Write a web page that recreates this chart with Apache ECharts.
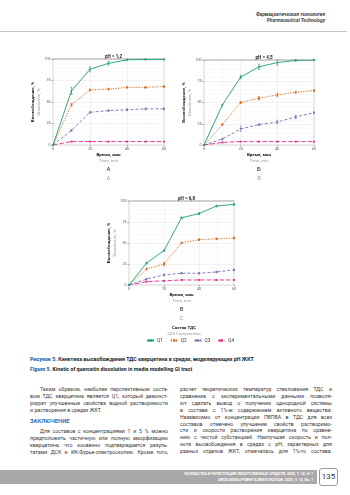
<!DOCTYPE html>
<html>
<head>
<meta charset="utf-8">
<script src="https://cdn.jsdelivr.net/npm/echarts@6/dist/echarts.min.js"></script>
<style>
  html, body { margin: 0; padding: 0; background: #fff; }
  #page { position: relative; width: 350px; height: 495px; overflow: hidden; font-family: Roboto, "Noto Sans", sans-serif; color: #333; }
  #chart { position: absolute; left: 0; top: 0; width: 350px; height: 495px; z-index: 2; }
  .abs { position: absolute; white-space: nowrap; }
  .hdr { right: 25px; font-size: 4.8px; font-weight: bold; font-style: italic; color: #444; }
  .cap { left: 30px; font-size: 5.3px; font-weight: bold; color: #222; }
  .cap b { color: #2a6fb5; }
  .ln { position: absolute; display: flex; justify-content: space-between; font-size: 5.2px; line-height: 6px; height: 6px; color: #3a3a3a; }
  .ln.last { justify-content: flex-start; gap: 1.4px; }
  .head { font-size: 5.8px; font-weight: bold; color: #2a6fb5; }
  #rule { position: absolute; left: 0; top: 31px; width: 347px; height: 0; border-top: 0.8px solid #c4c4c4; }
  #band { position: absolute; left: 0; top: 470px; width: 317px; height: 14px; background: #a9a9a9; }
  .foot { right: 37px; font-size: 3.7px; font-weight: bold; font-style: italic; color: #fff; }
  #pnum { position: absolute; left: 319px; top: 468px; width: 17px; height: 16px; border: 0.8px solid #9a9a9a; border-radius: 3px; font-size: 8px; line-height: 16px; text-align: center; color: #333; }
</style>
</head>
<body>
<div id="page">
  <div class="abs hdr" style="top:12px">Фармацевтическая технология</div>
  <div class="abs hdr" style="top:18px">Pharmaceutical Technology</div>
  <div id="rule"></div>

  <div class="abs cap" style="top:356px"><b>Рисунок 5.</b> Кинетика высвобождения ТДС кверцетина в средах, моделирующих рН ЖКТ</div>
  <div class="abs cap" style="top:366px"><b>Figure 5.</b> Kinetic of quercetin dissolution in media modelling GI tract</div>

  <div id="text"></div>

  <div id="band"></div>
  <div class="abs foot" style="top:472px">РАЗРАБОТКА И РЕГИСТРАЦИЯ ЛЕКАРСТВЕННЫХ СРЕДСТВ. 2025, Т. 14, № 1</div>
  <div class="abs foot" style="top:478px">DRUG DEVELOPMENT &amp; REGISTRATION. 2025, V. 14, No. 1</div>
  <div id="pnum">135</div>

  <div id="chart"></div>
</div>
<script>
// body text lines: [text, left, top, width, isLastLineOfParagraph]
const leftLines = [
  ["Таким образом, наиболее перспективным соста-", 40, 386, 128, false],
  ["вом ТДС кверцетина является Q1, который демонст-", 30, 393, 138, false],
  ["рирует улучшенные свойства водной растворимости", 30, 400, 138, false],
  ["и растворения в средах ЖКТ.", 30, 407, 138, true],
  ["Для составов с концентрациями 1 и 5 % можно", 40, 428, 128, false],
  ["предположить частичную или полную аморфизацию", 30, 435, 138, false],
  ["кверцетина, что косвенно подтверждается резуль-", 30, 442, 138, false],
  ["татами ДСК и ИК-Фурье-спектроскопии. Кроме того,", 30, 449, 138, false]
];
const rightLines = [
  "расчет теоретических температур стеклования ТДС и",
  "сравнение с экспериментальными данными позволя-",
  "ют сделать вывод о получении однородной системы",
  "в составе с 1%-м содержанием активного вещества.",
  "Независимо от концентрации ПВПВА в ТДС для всех",
  "составов отмечено улучшение свойств растворимо-",
  "сти и скорости растворения кверцетина по сравне-",
  "нию с чистой субстанцией. Наилучшая скорость и пол-",
  "нота высвобождения в средах с рН, характерных для",
  "разных отделов ЖКТ, отмечалась для 1%-го состава."
];

const textBox = document.getElementById("text");
function addLine(str, left, top, width, last) {
  const d = document.createElement("div");
  d.className = "ln" + (last ? " last" : "");
  d.style.left = left + "px";
  d.style.top = top + "px";
  d.style.width = width + "px";
  str.split(" ").forEach(w => {
    const s = document.createElement("span");
    s.textContent = w;
    d.appendChild(s);
  });
  textBox.appendChild(d);
}
leftLines.forEach(l => addLine(l[0], l[1], l[2], l[3], l[4]));
rightLines.forEach((t, i) => addLine(t, 180, 386 + i * 6.9, 152, false));
const head = document.createElement("div");
head.className = "abs head";
head.style.left = "30px";
head.style.top = "418px";
head.textContent = "ЗАКЛЮЧЕНИЕ";
textBox.appendChild(head);

// ---- chart data ----
const times = [0, 10, 20, 30, 40, 50, 60];
const seriesNames = ["Q1", "Q2", "Q3", "Q4"];
const colors = ["#1b9e77", "#d95f02", "#7570b3", "#e7298a"];
const phTitles = ["pH = 1,2", "pH = 4,5", "pH = 6,8"];
const panelLabels = [["А", "A"], ["Б", "B"], ["В", "C"]];
const yTicks = ["0", "25", "50", "75", "100"];

// pH 1.2
const ph12_q1 = [0, 63, 88, 95, 99, 99.5, 99.5];
const ph12_q2 = [0, 47, 64, 65, 67, 67, 68];
const ph12_q3 = [0, 17, 38, 40, 41, 42, 42];
const ph12_q4 = [0, 4, 4, 4, 4, 4, 4];
const ph12_q1_err = [0, 4, 3, 2, 0.6, 0.5, 0.5];
const ph12_q2_err = [0, 1.5, 1, 1, 0.8, 0.8, 0.8];
const ph12_q3_err = [0, 1, 1, 1, 1, 1, 1];
const ph12_q4_err = [0, 0.5, 0.5, 0.5, 0.5, 0.5, 0.5];
// pH 4.5
const ph45_q1 = [0, 47, 80, 92, 97, 99.5, 100];
const ph45_q2 = [0, 24, 50, 55, 59, 62, 64];
const ph45_q3 = [0, 7, 19, 24, 27, 33, 38];
const ph45_q4 = [0, 3, 4, 4, 4, 4, 4];
const ph45_q1_err = [0, 1, 2, 3, 3, 1, 0.5];
const ph45_q2_err = [0, 1, 1, 2, 2, 1, 1];
const ph45_q3_err = [0, 1, 3, 1, 2, 2, 1];
const ph45_q4_err = [0, 0.5, 0.5, 0.5, 0.5, 0.5, 0.5];
// pH 6.8
const ph68_q1 = [0, 26, 41, 80, 85, 94, 96];
const ph68_q2 = [0, 19, 25, 50, 54, 55, 56];
const ph68_q3 = [0, 7, 12, 14, 14, 15.5, 18];
const ph68_q4 = [0, 4, 5, 6, 6, 6, 6];
const ph68_q1_err = [0, 1, 1, 1, 1, 1, 1];
const ph68_q2_err = [0, 1, 2, 1, 1, 1, 1];
const ph68_q3_err = [0, 1, 1, 1, 1, 1, 1];
const ph68_q4_err = [0, 0.5, 0.5, 0.5, 0.5, 0.5, 0.5];

const panels = [
  [ph12_q1, ph12_q2, ph12_q3, ph12_q4],
  [ph45_q1, ph45_q2, ph45_q3, ph45_q4],
  [ph68_q1, ph68_q2, ph68_q3, ph68_q4]
];
const panelErrs = [
  [ph12_q1_err, ph12_q2_err, ph12_q3_err, ph12_q4_err],
  [ph45_q1_err, ph45_q2_err, ph45_q3_err, ph45_q4_err],
  [ph68_q1_err, ph68_q2_err, ph68_q3_err, ph68_q4_err]
];

// layout of the three panels (px on the page)
const grids = [
  { left: 53, top: 59, width: 111, height: 86 },
  { left: 204, top: 60, width: 110, height: 85 },
  { left: 129, top: 201, width: 105, height: 84 }
];
const lineTypes = ["solid", [1.2, 1.4], [3, 2], [4.5, 2]];
const FONT = "Roboto, 'Noto Sans', sans-serif";

const chart = echarts.init(document.getElementById("chart"), null, { renderer: "canvas" });

const xAxes = [], yAxes = [], series = [], titles = [];
grids.forEach((g, gi) => {
  xAxes.push({
    gridIndex: gi, type: "value", min: 0, max: 60, interval: 20,
    name: "{b|Время, мин}\n{g|Time, min}", nameLocation: "middle", nameGap: 7,
    nameTextStyle: { rich: {
      b: { fontSize: 4.4, fontWeight: "bold", color: "#111", fontFamily: FONT, lineHeight: 6 },
      g: { fontSize: 4.4, color: "#9a9a9a", fontFamily: FONT, lineHeight: 6 }
    } },
    axisLine: { show: false },
    axisTick: { show: true, length: 1.5, lineStyle: { color: "#555", width: 0.5 } },
    axisLabel: { fontSize: 3.6, color: "#555", margin: 2.5, fontFamily: FONT },
    splitLine: { show: true, lineStyle: { color: "#e4e4e4", width: 0.5 } },
    minorTick: { show: false, splitNumber: 2 },
    minorSplitLine: { show: true, lineStyle: { color: "#f1f1f1", width: 0.4 } }
  });
  // grey strip along the top of each panel
  xAxes.push({
    gridIndex: gi, type: "value", min: 0, max: 60, position: "top",
    axisLine: { show: true, onZero: false, lineStyle: { color: "#cfcfcf", width: 2 } },
    axisTick: { show: false }, axisLabel: { show: false }, splitLine: { show: false }
  });
  yAxes.push({
    gridIndex: gi, type: "value", min: 0, max: 100, interval: 25,
    name: "{b|Высвобождение, %}\n{g|Dissolution, %}", nameLocation: "middle", nameGap: 10, nameRotate: 90,
    nameTextStyle: { rich: {
      b: { fontSize: 4.4, fontWeight: "bold", color: "#111", fontFamily: FONT, lineHeight: 5.5 },
      g: { fontSize: 4.4, color: "#9a9a9a", fontFamily: FONT, lineHeight: 5.5 }
    } },
    axisLine: { show: false },
    axisTick: { show: true, length: 1.5, lineStyle: { color: "#555", width: 0.5 } },
    axisLabel: { fontSize: 3.6, color: "#555", margin: 2.5, fontFamily: FONT, formatter: v => yTicks[yTicks.indexOf(String(v))] },
    splitLine: { show: true, lineStyle: { color: "#e4e4e4", width: 0.5 } },
    minorSplitLine: { show: true, lineStyle: { color: "#f1f1f1", width: 0.4 } },
    splitNumber: 4
  });
  const cx = g.left + g.width / 2;
  titles.push({
    text: phTitles[gi], left: cx, top: g.top - 10, textAlign: "center",
    textStyle: { fontSize: 4.6, fontWeight: "bold", color: "#222", fontFamily: FONT }
  });
  titles.push({
    text: panelLabels[gi][0], subtext: panelLabels[gi][1], left: cx, top: g.top + g.height + 21, textAlign: "center",
    itemGap: 3, padding: 0,
    textStyle: { fontSize: 6, fontWeight: "normal", color: "#222", fontFamily: FONT },
    subtextStyle: { fontSize: 6, color: "#999", fontFamily: FONT }
  });

  panels[gi].forEach((vals, si) => {
    series.push({
      name: seriesNames[si], type: "line", xAxisIndex: gi * 2, yAxisIndex: gi,
      data: times.map((t, k) => [t, vals[k]]),
      symbol: "circle", symbolSize: 1.8, showSymbol: true,
      lineStyle: { color: colors[si], width: 0.9, type: lineTypes[si] },
      itemStyle: { color: colors[si] },
      z: 5 - si, animation: false
    });
    const errs = panelErrs[gi][si];
    series.push({
      name: seriesNames[si], type: "custom", xAxisIndex: gi * 2, yAxisIndex: gi,
      data: times.map((t, k) => [t, vals[k] - errs[k], vals[k] + errs[k]]),
      itemStyle: { color: colors[si] },
      renderItem: (params, api) => {
        const p1 = api.coord([api.value(0), api.value(1)]);
        const p2 = api.coord([api.value(0), api.value(2)]);
        const st = { stroke: colors[si], lineWidth: 0.6 };
        return { type: "group", children: [
          { type: "line", shape: { x1: p1[0], y1: p1[1], x2: p2[0], y2: p2[1] }, style: st },
          { type: "line", shape: { x1: p1[0] - 1, y1: p1[1], x2: p1[0] + 1, y2: p1[1] }, style: st },
          { type: "line", shape: { x1: p2[0] - 1, y1: p2[1], x2: p2[0] + 1, y2: p2[1] }, style: st }
        ] };
      },
      z: 5 - si, animation: false
    });
  });
});

titles.push({
  text: "Состав ТДС", subtext: "SDS Composition", left: 184, top: 326, textAlign: "center",
  itemGap: 1.5, padding: 0,
  textStyle: { fontSize: 4.3, fontWeight: "bold", color: "#222", fontFamily: FONT },
  subtextStyle: { fontSize: 4.3, color: "#9a9a9a", fontFamily: FONT }
});

chart.setOption({
  animation: false,
  title: titles,
  grid: grids.map(g => ({ ...g, show: true, backgroundColor: "#fff", borderColor: "#bdbdbd", borderWidth: 0.6, containLabel: false })),
  xAxis: xAxes,
  yAxis: yAxes,
  legend: {
    data: seriesNames, left: 146, top: 338, orient: "horizontal",
    itemWidth: 7, itemHeight: 3, itemGap: 7, padding: 0,
    textStyle: { fontSize: 4.6, color: "#333", fontFamily: FONT, padding: [0, 0, 0, -2] }
  },
  series: series
});
</script>
</body>
</html>
